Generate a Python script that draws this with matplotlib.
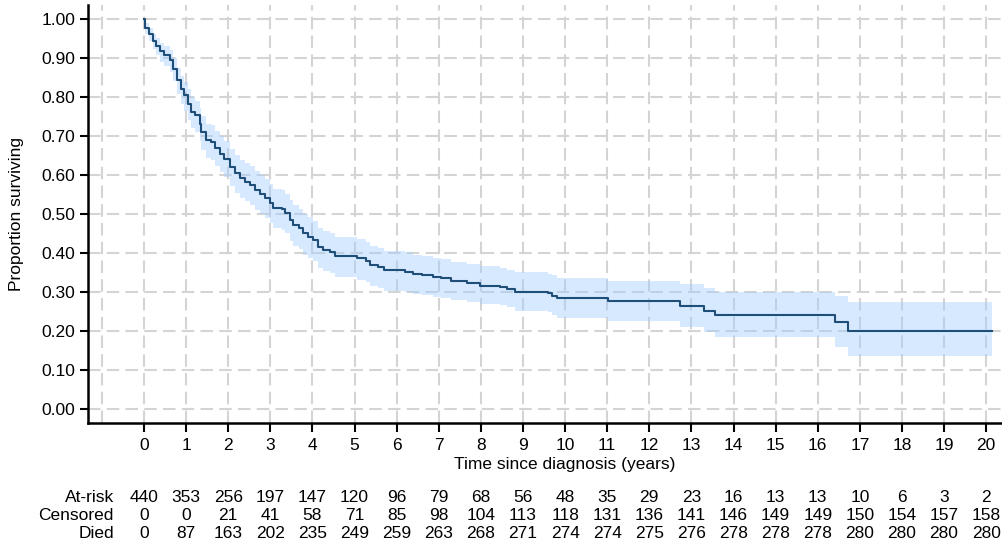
import numpy as np
import matplotlib
matplotlib.use("Agg")
import matplotlib.pyplot as plt
from matplotlib.transforms import blended_transform_factory

plt.rcParams['font.family'] = ['Liberation Sans', 'DejaVu Sans']

# Kaplan-Meier estimate: time of each drop (years), survival after it,
# and the confidence band after it
event_times = [0.00, 0.02, 0.12, 0.21, 0.29, 0.39, 0.47, 0.61, 0.69, 0.79,
               0.88, 0.96, 1.04, 1.12, 1.20, 1.32, 1.36, 1.48, 1.60, 1.69,
               1.80, 1.90, 2.04, 2.16, 2.28, 2.40, 2.52, 2.64, 2.76, 2.87,
               2.99, 3.07, 3.27, 3.35, 3.47, 3.55, 3.67, 3.78, 3.90, 4.02,
               4.14, 4.26, 4.42, 4.54, 5.05, 5.27, 5.37, 5.56, 5.70, 6.20,
               6.40, 6.60, 6.87, 7.05, 7.30, 7.68, 7.98, 8.46, 8.62, 8.80,
               9.60, 9.68, 9.80, 11.03, 12.73, 13.31, 13.55, 16.40, 16.73]
survival = [1.000, 0.977, 0.962, 0.943, 0.932, 0.917, 0.907, 0.894, 0.873, 0.843,
            0.821, 0.804, 0.783, 0.762, 0.753, 0.732, 0.710, 0.689, 0.685, 0.669,
            0.655, 0.642, 0.621, 0.604, 0.592, 0.583, 0.574, 0.562, 0.551, 0.540,
            0.527, 0.515, 0.512, 0.502, 0.485, 0.472, 0.463, 0.450, 0.442, 0.433,
            0.416, 0.408, 0.403, 0.393, 0.386, 0.380, 0.370, 0.365, 0.356, 0.352,
            0.346, 0.343, 0.339, 0.335, 0.328, 0.322, 0.316, 0.312, 0.307, 0.301,
            0.297, 0.290, 0.284, 0.276, 0.265, 0.252, 0.240, 0.222, 0.201]
ci_lower = [1.000, 0.962, 0.944, 0.922, 0.909, 0.891, 0.879, 0.864, 0.840, 0.807,
            0.783, 0.764, 0.742, 0.720, 0.710, 0.688, 0.665, 0.643, 0.639, 0.622,
            0.607, 0.594, 0.572, 0.555, 0.542, 0.533, 0.524, 0.511, 0.500, 0.489,
            0.476, 0.463, 0.460, 0.450, 0.432, 0.419, 0.410, 0.396, 0.388, 0.379,
            0.362, 0.354, 0.349, 0.339, 0.332, 0.326, 0.316, 0.311, 0.303, 0.299,
            0.294, 0.291, 0.288, 0.284, 0.279, 0.274, 0.270, 0.266, 0.261, 0.251,
            0.248, 0.241, 0.233, 0.226, 0.211, 0.198, 0.185, 0.159, 0.136]
ci_upper = [1.000, 0.990, 0.978, 0.962, 0.952, 0.939, 0.931, 0.920, 0.901, 0.875,
            0.855, 0.839, 0.820, 0.800, 0.791, 0.771, 0.751, 0.731, 0.727, 0.712,
            0.699, 0.687, 0.667, 0.651, 0.639, 0.630, 0.622, 0.610, 0.599, 0.589,
            0.577, 0.565, 0.562, 0.552, 0.535, 0.522, 0.513, 0.500, 0.492, 0.483,
            0.465, 0.457, 0.452, 0.442, 0.435, 0.429, 0.419, 0.414, 0.406, 0.402,
            0.396, 0.393, 0.388, 0.384, 0.377, 0.371, 0.366, 0.362, 0.356, 0.350,
            0.347, 0.343, 0.335, 0.328, 0.321, 0.309, 0.301, 0.289, 0.274]
last_followup = 20.15

# Number-at-risk table
table_years = list(range(0, 21))
at_risk = [440, 353, 256, 197, 147, 120, 96, 79, 68, 56, 48, 35, 29, 23, 16,
           13, 13, 10, 6, 3, 2]
censored = [0, 0, 21, 41, 58, 71, 85, 98, 104, 113, 118, 131, 136, 141, 146,
            149, 149, 150, 154, 157, 158]
died = [0, 87, 163, 202, 235, 249, 259, 263, 268, 271, 274, 274, 275, 276, 278,
        278, 278, 280, 280, 280, 280]
table_rows = [("At-risk", at_risk), ("Censored", censored), ("Died", died)]

y_ticks = [0.0, 0.1, 0.2, 0.3, 0.4, 0.5, 0.6, 0.7, 0.8, 0.9, 1.0]

FS = 12.5
W, H = 1003, 542
fig = plt.figure(figsize=(W / 100, H / 100), dpi=100)
ax = fig.add_axes([88 / W, 1 - 423 / H, 1 - 88 / W, (423 - 5) / H])

t = np.append(event_times, last_followup)
s = np.append(survival, survival[-1])
lo = np.append(ci_lower, ci_lower[-1])
hi = np.append(ci_upper, ci_upper[-1])

ax.fill_between(t, lo, hi, step='post', facecolor='#9ecbff', alpha=0.42,
                linewidth=0, zorder=3)
ax.step(t, s, where='post', color='#1f4e79', linewidth=1.5, zorder=4)

ax.set_xlim(-1.33, 20.4)
ax.set_ylim(-0.036, 1.036)

ax.set_xticks(range(-1, 21))
ax.set_xticklabels([''] + [str(v) for v in range(0, 21)])
ax.set_yticks(y_ticks)
ax.set_yticklabels([f"{v:.2f}" for v in y_ticks])
ax.xaxis.get_major_ticks()[0].tick1line.set_visible(False)

ax.grid(True, color='#d4d4d4', linestyle=(0, (6, 3)), linewidth=1.5, zorder=1)
ax.set_axisbelow(True)

for side in ('top', 'right'):
    ax.spines[side].set_visible(False)
for side in ('left', 'bottom'):
    ax.spines[side].set_linewidth(1.8)
    ax.spines[side].set_color('black')

ax.tick_params(axis='x', length=6.5, width=1.5, pad=4, labelsize=FS)
ax.tick_params(axis='y', length=6, width=1.5, pad=3, labelsize=FS)

ax.set_ylabel("Proportion surviving", fontsize=FS, labelpad=13)

trans = blended_transform_factory(ax.transData, fig.transFigure)
ax.text(10, 1 - 464 / H, "Time since diagnosis (years)", transform=trans,
        ha='center', va='center', fontsize=FS)

row_y = [498, 516, 534]
for (label, values), yp in zip(table_rows, row_y):
    fig.text(114 / W, 1 - yp / H, label, ha='right', va='center', fontsize=FS)
    for yr, v in zip(table_years, values):
        ax.text(yr, 1 - yp / H, str(v), transform=trans, ha='center',
                va='center', fontsize=FS)

fig.savefig("out.png", dpi=100)
